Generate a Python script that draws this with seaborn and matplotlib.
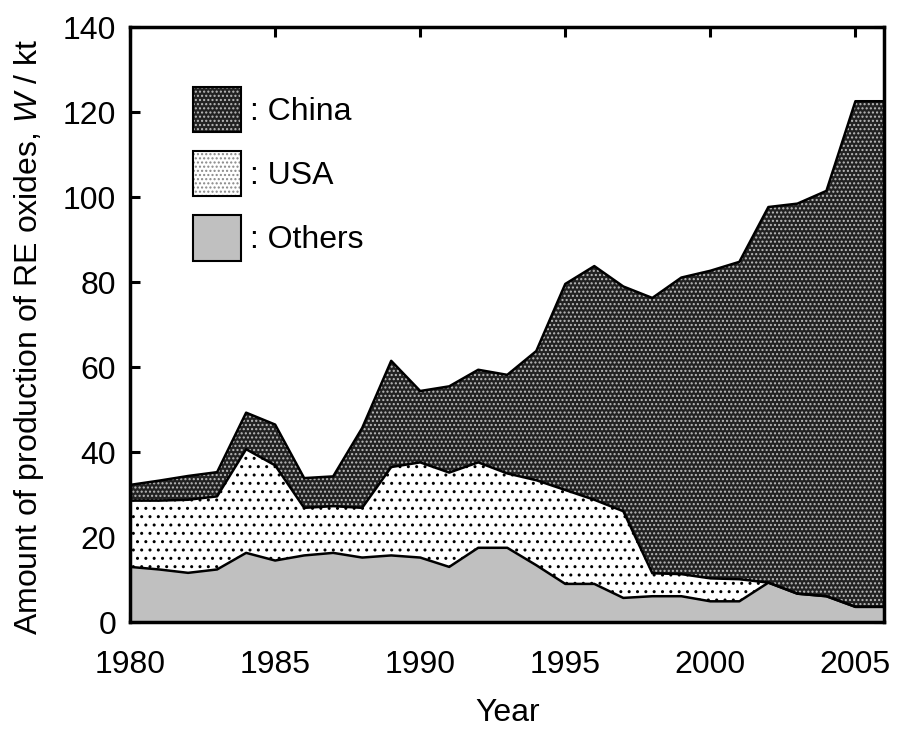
import seaborn as sns
import matplotlib.pyplot as plt
import pandas as pd
import numpy as np
from matplotlib.patches import Patch
from matplotlib.colors import to_rgba

# data (kt of RE oxides)
years = list(range(1980, 2007))
others = [13.0, 12.4, 11.6, 12.4, 16.3, 14.5, 15.7, 16.3, 15.2, 15.7, 15.2, 13.0, 17.5, 17.5,
          13.4, 9.0, 9.0, 5.7, 6.1, 6.1, 4.9, 4.9, 9.3, 6.7, 6.1, 3.6, 3.6]
usa = [15.6, 16.2, 17.2, 17.2, 24.4, 22.4, 11.2, 11.0, 11.7, 20.8, 22.4, 22.2, 20.1, 17.5,
       20.0, 22.1, 19.8, 20.4, 5.4, 5.2, 5.4, 5.2, 0.0, 0.0, 0.0, 0.0, 0.0]
china = [3.7, 4.7, 5.6, 5.7, 8.6, 9.6, 7.0, 7.0, 18.8, 25.0, 16.8, 20.3, 21.8, 23.2,
         30.4, 48.5, 55.0, 52.9, 64.8, 69.8, 72.4, 74.7, 88.4, 91.8, 95.4, 119.0, 119.0]

df = pd.DataFrame({'Year': years, 'Others': others, 'USA': usa, 'China': china})
df['top_others'] = df['Others']
df['top_usa'] = df['top_others'] + df['USA']
df['top_china'] = df['top_usa'] + df['China']

sns.set_theme(style='ticks')
plt.rcParams['font.family'] = ['Liberation Sans', 'DejaVu Sans']
plt.rcParams['mathtext.fontset'] = 'custom'
plt.rcParams['mathtext.it'] = 'Liberation Sans:italic'
plt.rcParams['mathtext.rm'] = 'Liberation Sans'
plt.rcParams['hatch.linewidth'] = 1.0
plt.rcParams['text.color'] = 'black'
plt.rcParams['axes.labelcolor'] = 'black'

fig = plt.figure(figsize=(8.97, 7.38), dpi=100)
ax = fig.add_axes([0.145, 0.157, 0.841, 0.806])

gray = '#c0c0c0'
dark = '#222222'
fs = 23

ax.fill_between(df['Year'], 0, df['top_others'], facecolor=gray, edgecolor=gray, linewidth=0)
ax.fill_between(df['Year'], df['top_others'], df['top_usa'], facecolor='white',
                edgecolor='black', hatch='..', linewidth=0)
ax.fill_between(df['Year'], df['top_usa'], df['top_china'], facecolor=dark,
                edgecolor='#bbbbbb', hatch='....', linewidth=0)

for col in ['top_others', 'top_usa', 'top_china']:
    sns.lineplot(data=df, x='Year', y=col, ax=ax, color='black', linewidth=1.8)

ax.set_xlim(1980, 2006)
ax.set_ylim(0, 140)
ax.set_xticks([1980, 1985, 1990, 1995, 2000, 2005])
ax.set_yticks(np.arange(0, 141, 20))
ax.tick_params(direction='in', length=7, width=2.2, labelsize=fs,
               top=True, right=True, colors='black')
ax.tick_params(axis='x', pad=20)
ax.tick_params(axis='y', pad=10)
for s in ax.spines.values():
    s.set_linewidth(2.5)
    s.set_color('black')

ax.set_xlabel('Year', fontsize=fs)
ax.set_ylabel(r'Amount of production of RE oxides, $\mathit{W}$ / kt', fontsize=fs)
ax.xaxis.set_label_coords(0.5, -0.128)
ax.yaxis.set_label_coords(-0.112, 0.48)

handles = [Patch(facecolor=dark, linewidth=0),
           Patch(facecolor='white', linewidth=0),
           Patch(facecolor=gray, linewidth=0)]
leg = ax.legend(handles, [': China', ': USA', ': Others'], loc='upper left',
                bbox_to_anchor=(0.062, 0.927), frameon=False, fontsize=fs, borderpad=0,
                handlelength=1.5, handleheight=1.8, handletextpad=0.3, labelspacing=0.6)
for p, h, hc in zip(leg.get_patches(), ['....', '....', None], ['#bbbbbb', '#888888', None]):
    p.set_linewidth(1.5)
    p.set_edgecolor('black')
    if h:
        p.set_hatch(h)
        p._hatch_color = to_rgba(hc)

fig.savefig('out.png', dpi=100)
